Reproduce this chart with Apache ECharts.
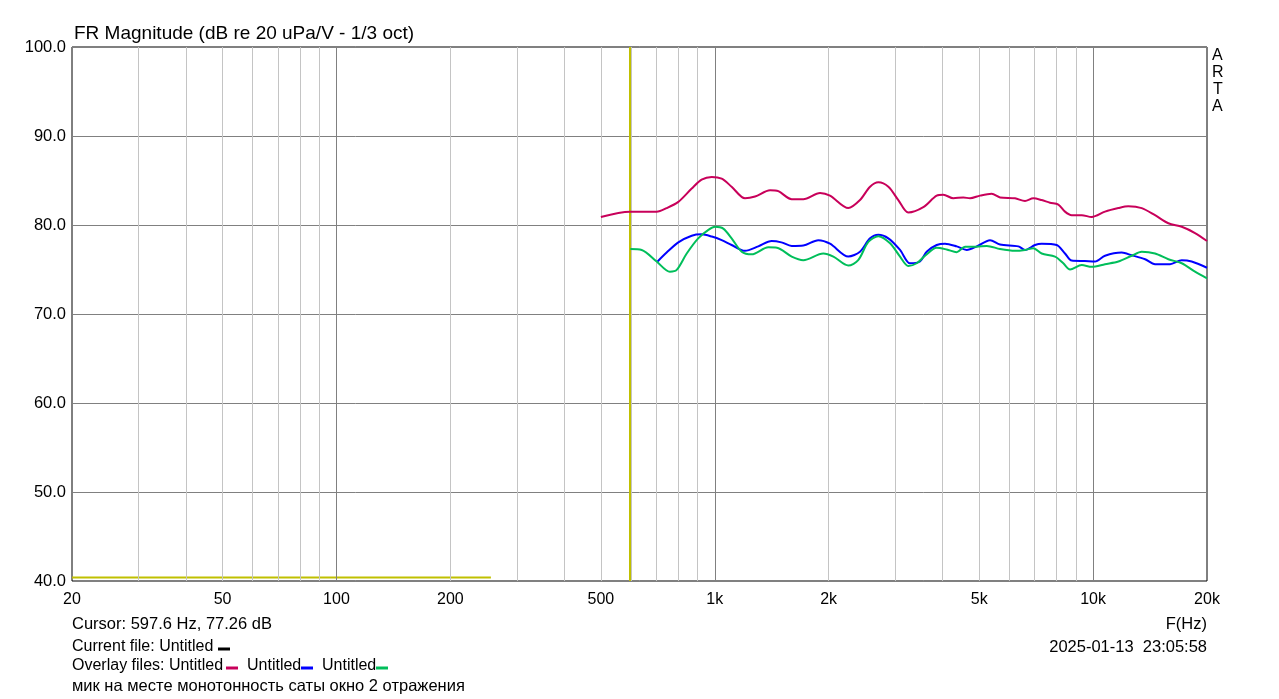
<!DOCTYPE html>
<html><head><meta charset="utf-8">
<script src="https://cdn.jsdelivr.net/npm/echarts@6/dist/echarts.min.js"></script>
<style>html,body{margin:0;padding:0;background:#fff}#c{width:1279px;height:699px}</style>
</head><body><div id="c"></div>
<script>
// ---- data ----
const xTickValues = [20, 50, 100, 200, 500, 1000, 2000, 5000, 10000, 20000];
const xTickText = ['20', '50', '100', '200', '500', '1k', '2k', '5k', '10k', '20k'];
const minorGridFreqs = [30, 40, 50, 60, 70, 80, 90, 200, 300, 400, 500, 600, 700, 800, 900, 2000, 3000, 4000, 5000, 6000, 7000, 8000, 9000];
const majorGridFreqs = [100, 1000, 10000];

const freqRed = [500, 597, 702, 746, 801, 869, 923, 982, 1043, 1108, 1202, 1278, 1400, 1472, 1597, 1714, 1898, 2016, 2254, 2420, 2573, 2706, 2876, 3056, 3247, 3558, 3860, 4018, 4271, 4540, 4728, 5024, 5394, 5676, 6217, 6607, 6949, 7313, 7692, 8092, 8427, 8777, 9332, 9915, 10751, 11660, 12388, 13443, 14579, 15808, 17150, 18592, 20000];
const dbRed = [80.9, 81.5, 81.5, 81.9, 82.6, 84.1, 85.1, 85.4, 85.2, 84.3, 83.0, 83.2, 83.9, 83.8, 82.9, 82.9, 83.6, 83.3, 81.9, 82.8, 84.3, 84.8, 84.3, 82.8, 81.4, 82.0, 83.3, 83.4, 83.0, 83.1, 83.0, 83.3, 83.5, 83.1, 83.0, 82.7, 83.0, 82.8, 82.5, 82.3, 81.5, 81.1, 81.1, 80.9, 81.5, 81.9, 82.1, 81.9, 81.1, 80.2, 79.8, 79.1, 78.2];

const freqBlue = [706, 746, 801, 869, 923, 982, 1043, 1108, 1202, 1303, 1414, 1500, 1597, 1714, 1878, 2016, 2254, 2420, 2573, 2706, 2876, 3088, 3281, 3487, 3632, 3860, 4060, 4359, 4634, 4925, 5340, 5676, 6344, 6607, 7021, 7313, 8012, 8427, 8777, 9519, 10116, 10751, 11900, 12648, 13721, 14579, 15970, 17150, 18218, 20000];
const dbBlue = [75.9, 76.9, 78.05, 78.8, 78.95, 78.7, 78.3, 77.75, 77.1, 77.6, 78.2, 78.05, 77.65, 77.7, 78.3, 77.9, 76.45, 77.0, 78.5, 78.9, 78.5, 77.2, 75.7, 75.9, 77.0, 77.75, 77.9, 77.6, 77.2, 77.6, 78.3, 77.8, 77.6, 77.2, 77.75, 77.9, 77.75, 76.8, 76.0, 75.95, 75.9, 76.55, 76.9, 76.6, 76.15, 75.6, 75.6, 76.05, 75.9, 75.2];

const freqGreen = [598, 641, 702, 761, 793, 843, 904, 962, 1002, 1053, 1108, 1178, 1252, 1385, 1460, 1597, 1714, 1935, 2058, 2254, 2394, 2546, 2706, 2906, 3088, 3247, 3417, 3596, 3860, 4102, 4359, 4586, 4925, 5234, 5676, 6217, 6607, 6949, 7313, 7930, 8342, 8690, 9332, 9915, 10751, 11660, 12648, 13443, 14579, 15808, 17150, 18592, 20000];
const dbGreen = [77.3, 77.2, 75.9, 74.75, 74.95, 76.8, 78.5, 79.45, 79.8, 79.6, 78.5, 77.0, 76.7, 77.5, 77.45, 76.45, 76.05, 76.8, 76.45, 75.45, 76.05, 78.1, 78.75, 77.95, 76.45, 75.4, 75.7, 76.55, 77.45, 77.25, 76.95, 77.55, 77.55, 77.65, 77.3, 77.1, 77.2, 77.4, 76.8, 76.45, 75.7, 75.0, 75.5, 75.3, 75.6, 75.9, 76.55, 77.0, 76.8, 76.15, 75.7, 74.75, 74.0];

const cursorFreq = 597.6;
const cursorFreqs = [20, 256];
const cursorLevels = [40.4, 40.4];

// ---- chart ----
const FONT = "'Liberation Sans', Arial, sans-serif";
const FOOT = '16px ' + FONT;
const RED = '#c8005a', BLUE = '#0000ff', GREEN = '#00be5a', YELLOW = '#c0c000';
const zip = (a, b) => a.map((v, i) => [v, b[i]]);
const chart = echarts.init(document.getElementById('c'), null, {renderer: 'canvas'});

const gridLines = [];
minorGridFreqs.forEach(f => gridLines.push({xAxis: f, lineStyle: {color: '#c4c4c4', width: 1, type: 'solid'}}));
majorGridFreqs.forEach(f => gridLines.push({xAxis: f, lineStyle: {color: '#808080', width: 1, type: 'solid'}}));

const curve = (name, f, d, color) => ({
  name, type: 'line', data: zip(f, d), showSymbol: false, symbol: 'none',
  smooth: 0.3, z: 5, lineStyle: {color, width: 2}, itemStyle: {color}
});

const txt = (left, top, text, extra) => Object.assign({type: 'text', left, top, style: {text, font: FOOT, fill: '#000'}}, extra || {});
const dash = (x, y, fill) => ({type: 'rect', shape: {x, y, width: 12, height: 3}, style: {fill}});

const footer = [
  {type: 'text', left: 72, top: 616, style: {text: 'Cursor: 597.6 Hz, 77.26 dB', font: '16.5px ' + FONT, fill: '#000'}},
  {type: 'text', right: 72, top: 616, style: {text: 'F(Hz)', font: '16.5px ' + FONT, fill: '#000'}},
  txt(72, 639, 'Current file: Untitled'),
  dash(218, 647.5, '#000'),
  {type: 'text', right: 72, top: 639, style: {text: '2025-01-13  23:05:58', font: '16.5px ' + FONT, fill: '#000'}},
  txt(72, 658, 'Overlay files: Untitled'),
  dash(226, 666.5, RED),
  txt(247, 658, 'Untitled'),
  dash(301, 666.5, BLUE),
  txt(322, 658, 'Untitled'),
  dash(376, 666.5, GREEN),
  txt(72, 678, 'мик на месте монотонность саты окно 2 отражения', {style: {text: 'мик на месте монотонность саты окно 2 отражения', font: '16.5px ' + FONT, fill: '#000'}})
];

chart.setOption({
  animation: false,
  backgroundColor: '#fff',
  grid: {left: 72, top: 47, right: 72, bottom: 118, show: true, borderColor: '#000', borderWidth: 1, backgroundColor: '#fff'},
  xAxis: {
    type: 'log', logBase: 10, min: 20, max: 20000,
    axisLine: {show: false}, axisTick: {show: false}, splitLine: {show: false},
    axisLabel: {
      customValues: xTickValues, margin: 11, color: '#000', fontSize: 16, fontFamily: FONT,
      showMinLabel: true, showMaxLabel: true,
      formatter: v => { const i = xTickValues.findIndex(t => Math.abs(t - v) / t < 1e-6); return i >= 0 ? xTickText[i] : ''; }
    }
  },
  yAxis: {
    type: 'value', min: 40, max: 100, interval: 10,
    axisLine: {show: false}, axisTick: {show: false},
    splitLine: {show: true, lineStyle: {color: '#808080', width: 1}},
    axisLabel: {margin: 6, color: '#000', fontSize: 16.5, fontFamily: FONT, formatter: v => v.toFixed(1)}
  },
  series: [
    {type: 'line', data: [], z: 1, silent: true,
     markLine: {silent: true, symbol: 'none', label: {show: false}, animation: false, data: gridLines}},
    {type: 'line', data: zip(cursorFreqs, cursorLevels), showSymbol: false, symbol: 'none', z: 4,
     lineStyle: {color: YELLOW, width: 2},
     markLine: {silent: true, symbol: 'none', label: {show: false}, animation: false,
       data: [{xAxis: cursorFreq, lineStyle: {color: YELLOW, width: 2, type: 'solid'}}]}},
    curve('Untitled red', freqRed, dbRed, RED),
    curve('Untitled blue', freqBlue, dbBlue, BLUE),
    curve('Untitled green', freqGreen, dbGreen, GREEN)
  ],
  graphic: [
    {type: 'text', left: 74, top: 24, style: {text: 'FR Magnitude (dB re 20 uPa/V - 1/3 oct)', font: '19px ' + FONT, fill: '#000'}},
    {type: 'text', left: 1212, top: 48, style: {text: 'A', font: '16px ' + FONT, fill: '#000'}},
    {type: 'text', left: 1212, top: 65, style: {text: 'R', font: '16px ' + FONT, fill: '#000'}},
    {type: 'text', left: 1213, top: 82, style: {text: 'T', font: '16px ' + FONT, fill: '#000'}},
    {type: 'text', left: 1212, top: 99, style: {text: 'A', font: '16px ' + FONT, fill: '#000'}}
  ].concat(footer)
});
</script>
</body></html>
